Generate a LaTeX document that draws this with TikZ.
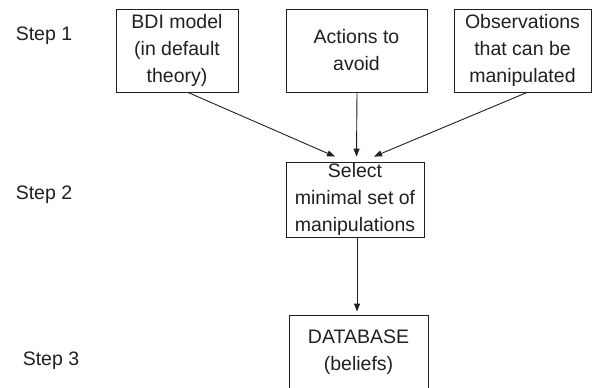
\documentclass[tikz,border=0pt]{standalone}
\usepackage{fontspec}
\setmainfont{Liberation Sans}
\usetikzlibrary{arrows.meta}
\definecolor{ink}{HTML}{231F20}
\begin{document}
\begin{tikzpicture}[x=1pt,y=-1pt,
  every node/.style={text=ink,font=\fontsize{19.5}{27}\selectfont},
  box/.style={draw=ink,line width=0.9pt,align=center,inner sep=0pt,minimum height=83pt},
  steplabel/.style={inner sep=0pt},
  arr/.style={draw=ink,line width=0.9pt,-{Triangle[length=8pt,width=6pt]}}]
\clip (0,0) rectangle (592,388);
\fill[white] (0,0) rectangle (592,388);
\node[steplabel] (s1) at (44,36) {Step 1};
\node[steplabel] (s2) at (44,195) {Step 2};
\node[steplabel] (s3) at (51,361) {Step 3};
\node[box,minimum width=122pt] (bdi) at (177,50.5) {BDI model\\(in default\\theory)};
\node[box,minimum width=141pt] (act) at (356.5,50.5) {Actions to\\avoid};
\node[box,minimum width=137pt] (obs) at (522.5,50.5) {Observations\\that can be\\manipulated};
\node[box,minimum width=138pt,minimum height=75pt] (sel) at (355,199.5) {Select\\minimal set of\\manipulations};
\node[box,minimum width=139pt,minimum height=75pt] (db) at (358.5,352.5) {DATABASE\\(beliefs)};
\draw[arr] ([xshift=11pt]bdi.south) -- ([xshift=-20pt,yshift=5pt]sel.north);
\draw[arr] ([xshift=0.5pt]act.south) -- ([xshift=1.5pt,yshift=5pt]sel.north);
\draw[arr] ([xshift=4.5pt]obs.south) -- ([xshift=19pt,yshift=5pt]sel.north);
\draw[arr] ([xshift=2pt]sel.south) -- ([xshift=-1.5pt,yshift=3pt]db.north);
\end{tikzpicture}
\end{document}
